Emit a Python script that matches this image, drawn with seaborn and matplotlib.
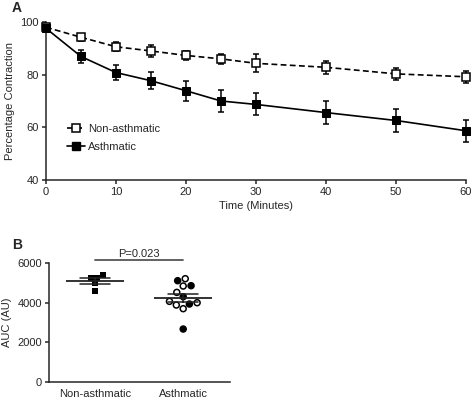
import matplotlib
matplotlib.use("Agg")
import matplotlib.pyplot as plt
from matplotlib.lines import Line2D
import numpy as np
import pandas as pd
import seaborn as sns

# Panel A: contraction over time (mean +/- SEM)
time_min = [0, 5, 10, 15, 20, 25, 30, 40, 50, 60]
non_asth_mean = [98.0, 94.2, 90.6, 89.0, 87.3, 86.0, 84.3, 82.8, 80.3, 79.2]
non_asth_sem = [0.8, 1.4, 1.8, 2.4, 1.8, 1.8, 3.4, 2.4, 2.2, 2.2]
asth_mean = [97.6, 86.9, 80.8, 77.7, 73.9, 70.0, 68.7, 65.6, 62.6, 58.7]
asth_sem = [0.8, 2.6, 3.0, 3.2, 3.8, 4.2, 4.2, 4.3, 4.3, 4.2]

# Panel B: AUC per subject
non_asth_auc = [5236, 5405, 5270, 5017, 4595]
asth_auc = [5220, 4848, 4527, 4003, 3885, 3700, 4071, 4865, 5118, 4307, 3936, 2669]
asth_fill = ["open"] * 7 + ["filled"] * 5
groups = ["Non-asthmatic", "Asthmatic"]
p_text = "P=0.023"

sns.set_style("ticks")
plt.rcParams["font.family"] = ["Liberation Sans", "DejaVu Sans"]
plt.rcParams["font.size"] = 8
plt.rcParams["axes.linewidth"] = 1.1
plt.rcParams["xtick.major.width"] = 1.1
plt.rcParams["ytick.major.width"] = 1.1
plt.rcParams["xtick.major.size"] = 3
plt.rcParams["ytick.major.size"] = 3

fig = plt.figure(figsize=(4.72, 3.98), dpi=100)

# ---- panel A
ax = fig.add_axes([46 / 472, 1 - 180 / 398, 420 / 472, 158 / 398])
dfa = pd.DataFrame({"Time": time_min, "Non": non_asth_mean, "Asth": asth_mean})

sns.lineplot(data=dfa, x="Time", y="Non", ax=ax, color="black", linestyle=(0, (3.5, 2)),
             lw=1.2, marker="s", markersize=5.5, mfc="white", mec="black", mew=1.1,
             clip_on=False, zorder=3)
sns.lineplot(data=dfa, x="Time", y="Asth", ax=ax, color="black", lw=1.2,
             marker="s", markersize=5.5, mfc="black", mec="black", clip_on=False, zorder=3)
ax.errorbar(time_min, non_asth_mean, yerr=non_asth_sem, fmt="none", ecolor="black",
            elinewidth=1.1, capsize=2.5, capthick=1.1, clip_on=False, zorder=2)
ax.errorbar(time_min, asth_mean, yerr=asth_sem, fmt="none", ecolor="black",
            elinewidth=1.1, capsize=2.5, capthick=1.1, clip_on=False, zorder=2)

ax.set_xlim(0, 60)
ax.set_ylim(40, 100)
ax.set_xticks([0, 10, 20, 30, 40, 50, 60])
ax.set_yticks([40, 60, 80, 100])
ax.set_xlabel("Time (Minutes)", fontsize=8, labelpad=3)
ax.set_ylabel("Percentage Contraction", fontsize=8, labelpad=4)
ax.tick_params(labelsize=8, pad=2)
sns.despine(ax=ax)

handles = [
    Line2D([], [], color="black", lw=1.2, linestyle=(0, (3.5, 2)), marker="s",
           markersize=5.5, mfc="white", mec="black", mew=1.1),
    Line2D([], [], color="black", lw=1.2, marker="s", markersize=5.5, mfc="black"),
]
ax.legend(handles, groups, loc="upper left", bbox_to_anchor=(0.05, 0.355),
          frameon=False, fontsize=8, handlelength=1.6, handletextpad=0.3,
          labelspacing=0.75, borderpad=0, borderaxespad=0)

# ---- panel B
bx = fig.add_axes([49 / 472, 1 - 381.7 / 398, 181 / 472, 118.4 / 398])
dfb_non = pd.DataFrame({"group": "Non-asthmatic", "auc": non_asth_auc, "fill": "filled"})
dfb_asth = pd.DataFrame({"group": "Asthmatic", "auc": asth_auc, "fill": asth_fill})
dfb = pd.concat([dfb_non, dfb_asth], ignore_index=True)

sns.swarmplot(data=dfb_non, x="group", y="auc", order=groups, ax=bx, marker="s",
              color="black", size=4, zorder=3)
sns.swarmplot(data=dfb_asth, x="group", y="auc", order=groups, ax=bx, hue="fill",
              palette={"open": "white", "filled": "black"}, marker="o", size=4.3,
              edgecolor="black", linewidth=1.1, legend=False, zorder=3)
sns.pointplot(data=dfb, x="group", y="auc", order=groups, ax=bx, errorbar="se",
              capsize=0.34, linestyle="none", marker="_", markersize=42,
              markeredgewidth=1.3, color="#222222", err_kws={"linewidth": 1.1}, zorder=4)

bx.set_xlim(-0.52, 1.53)
bx.set_ylim(0, 6000)
bx.set_yticks([0, 2000, 4000, 6000])
bx.set_xlabel("")
bx.set_ylabel("AUC (AU)", fontsize=8, labelpad=4)
bx.tick_params(axis="x", length=0, labelsize=8, pad=5)
bx.tick_params(axis="y", labelsize=8, pad=2)
sns.despine(ax=bx)

bx.plot([0, 1], [6170, 6170], color="#555555", lw=1.3, clip_on=False)
bx.text(0.5, 6230, p_text, ha="center", va="bottom", fontsize=8)

fig.text(12 / 472, 1 - 8 / 398, "A", fontsize=10, fontweight="bold", va="center")
fig.text(12 / 472, 1 - 245 / 398, "B", fontsize=10, fontweight="bold", va="center")

fig.savefig("out.png", dpi=100)
